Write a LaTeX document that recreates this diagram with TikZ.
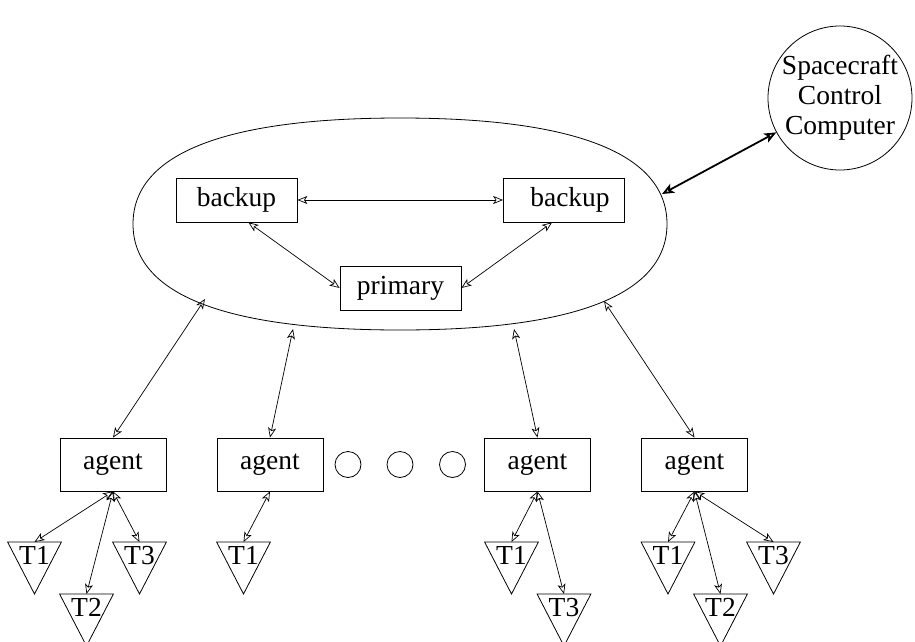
\documentclass[tikz,border=0pt]{standalone}
\usepackage{fontspec}
\setmainfont{Liberation Serif}
\usetikzlibrary{arrows.meta}

\tikzset{
  box/.style={draw, rectangle, inner sep=0pt, minimum width=121, minimum height=44},
  agentbox/.style={draw, rectangle, inner sep=0pt, minimum width=106, minimum height=53},
  dot/.style={draw, circle, inner sep=0pt, minimum size=26},
  hostcirc/.style={draw, circle, inner sep=0pt, minimum size=144, align=center},
  % inverted triangle hanging below the node's north point; text sits in its upper half
  tri/.style={inner sep=0pt, minimum width=53, minimum height=26, anchor=north,
    append after command={\pgfextra{\draw (\tikzlastnode.north west) -- (\tikzlastnode.north east)
      -- ([yshift=-52pt]\tikzlastnode.north) -- cycle;}}},
  link/.style={<->, line width=0.7pt},
  biglink/.style={<->, line width=1.8pt, >={Stealth[open,length=12pt,width=10pt,inset=3pt]}}
}

\begin{document}
\begin{tikzpicture}[x=1pt, y=-1pt, line width=0.8pt,
  font=\fontsize{27.5}{30}\selectfont,
  >={Stealth[open,length=10pt,width=8pt,inset=2.5pt]}]
\useasboundingbox (0,0) rectangle (915,642);

% group of replicated controllers
\draw (133,224) .. controls (133,154) and (224,118) .. (400,118)
                .. controls (576,118) and (667,154) .. (667,224)
                .. controls (667,294) and (576,330) .. (400,330)
                .. controls (224,330) and (133,294) .. (133,224);
\coordinate (e1) at (205,299);
\coordinate (e2) at (293,329);
\coordinate (e3) at (514,329);
\coordinate (e4) at (604,301);
\coordinate (e5) at (662,194);

\node[box] (bk1) at (236.5,200) {backup};
\node[box] (bk2) at (564,200) {\hspace{12pt}backup};
\node[box] (pr) at (400.5,288) {primary};

\draw[link] (bk1.east) -- (bk2.west);
\draw[link] (bk1.-62) -- (pr.west);
\draw[link] (bk2.-118) -- (pr.east);

% spacecraft computer
\node[hostcirc] (scc) at (840,98) {Spacecraft\\Control\\Computer};
\draw[biglink] (e5) -- (scc);

% agents
\node[agentbox] (a1) at (113,464.5) {agent};
\node[agentbox] (a2) at (270,464.5) {agent};
\node[agentbox] (a3) at (537.5,464.5) {agent};
\node[agentbox] (a4) at (694.5,464.5) {agent};

\node[dot] (d1) at (348,464.5) {};
\node[dot] (d2) at (400,464.5) {};
\node[dot] (d3) at (452.5,464.5) {};

\draw[link] (a1.north) -- (e1);
\draw[link] (a2.north) -- (e2);
\draw[link] (a3.north) -- (e3);
\draw[link] (a4.north) -- (e4);

% tasks
\node[tri] (t11) at (34.5,542) {T1};
\node[tri] (t12) at (86.5,594) {T2};
\node[tri] (t13) at (139.5,542) {T3};
\node[tri] (t21) at (243.5,542) {T1};
\node[tri] (t31) at (511.5,542) {T1};
\node[tri] (t33) at (564,594) {T3};
\node[tri] (t41) at (668,542) {T1};
\node[tri] (t42) at (720.5,594) {T2};
\node[tri] (t43) at (773.5,542) {T3};

\draw[link] (a1.south) -- (t11.north);
\draw[link] (a1.south) -- (t12.north);
\draw[link] (a1.south) -- (t13.north);
\draw[link] (a2.south) -- (t21.north);
\draw[link] (a3.south) -- (t31.north);
\draw[link] (a3.south) -- (t33.north);
\draw[link] (a4.south) -- (t41.north);
\draw[link] (a4.south) -- (t42.north);
\draw[link] (a4.south) -- (t43.north);
\end{tikzpicture}
\end{document}
